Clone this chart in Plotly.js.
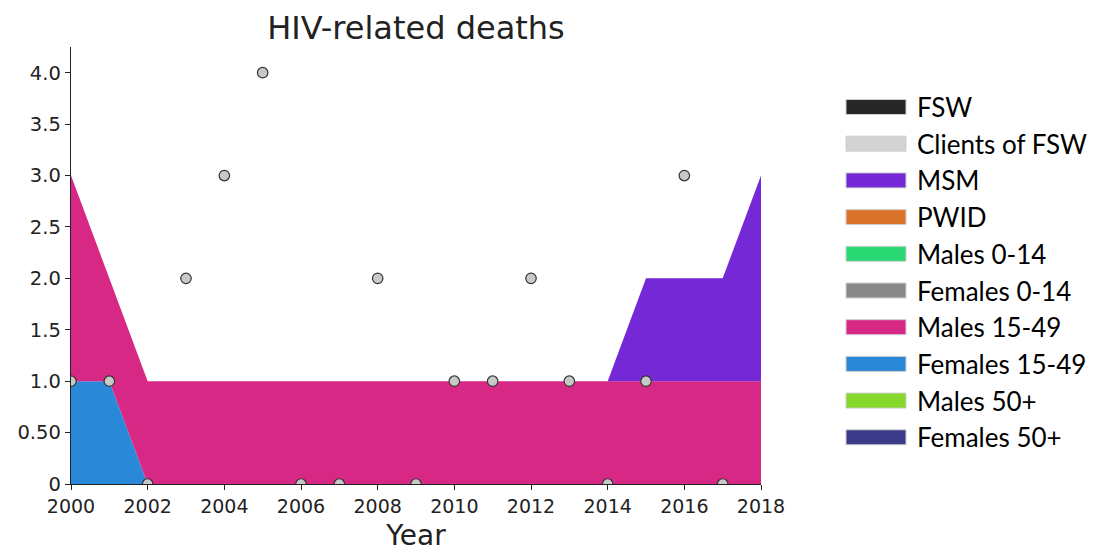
<!DOCTYPE html>
<html>
<head>
<meta charset="utf-8">
<script src="https://cdn.plot.ly/plotly-3.0.1.min.js"></script>
<style>html,body{margin:0;padding:0;background:#fff;}#chart{width:1099px;height:552px;}</style>
</head>
<body>
<div id="chart"></div>
<script>
const years = [2000,2001,2002,2003,2004,2005,2006,2007,2008,2009,2010,2011,2012,2013,2014,2015,2016,2017,2018];
// legend order (top to bottom)
const groupNames = ["FSW","Clients of FSW","MSM","PWID","Males 0-14","Females 0-14","Males 15-49","Females 15-49","Males 50+","Females 50+"];
const groupColors = ["#262626","#d3d3d3","#7529d6","#d9742a","#2ad874","#898989","#d82886","#2a88d8","#86d82a","#3b3b8a"];
const zeros = [0,0,0,0,0,0,0,0,0,0,0,0,0,0,0,0,0,0,0];
const fswVals = zeros, clientsVals = zeros, pwidVals = zeros, m014Vals = zeros, f014Vals = zeros, m50Vals = zeros, f50Vals = zeros;
const msmVals = [0,0,0,0,0,0,0,0,0,0,0,0,0,0,0,1,1,1,2];
const m1549Vals = [2,1,1,1,1,1,1,1,1,1,1,1,1,1,1,1,1,1,1];
const f1549Vals = [1,1,0,0,0,0,0,0,0,0,0,0,0,0,0,0,0,0,0];
const groupValues = [fswVals,clientsVals,msmVals,pwidVals,m014Vals,f014Vals,m1549Vals,f1549Vals,m50Vals,f50Vals];
const dataYears = [2000,2001,2002,2003,2004,2005,2006,2007,2008,2009,2010,2011,2012,2013,2014,2015,2016,2017];
const dataVals  = [1,1,0,2,3,4,0,0,2,0,1,1,2,1,0,1,3,0];
const yTickVals = [0,0.5,1,1.5,2,2.5,3,3.5,4];
const yTickText = ["0","0.50","1.0","1.5","2.0","2.5","3.0","3.5","4.0"];
const xTickVals = [2000,2002,2004,2006,2008,2010,2012,2014,2016,2018];

const traces = [];
for (let i = groupNames.length - 1; i >= 0; i--) {
  traces.push({
    x: years, y: groupValues[i], name: groupNames[i], type: 'scatter', mode: 'lines',
    stackgroup: 'one', line: {width: 0, color: groupColors[i]}, fillcolor: groupColors[i],
    showlegend: false, hoverinfo: 'skip'
  });
}
traces.push({
  x: dataYears, y: dataVals, type: 'scatter', mode: 'markers', name: 'Data',
  marker: {size: 10.5, color: '#c8c8c8', line: {color: '#333', width: 1.2}},
  showlegend: false
});

const shapes = [], annotations = [];
const legTop = 107, legStep = 36.7;
groupNames.forEach((n, i) => {
  const cy = legTop + i * legStep;
  shapes.push({type: 'rect', xref: 'paper', yref: 'paper',
    x0: (846 - 71) / 690, x1: (906 - 71) / 690,
    y0: (484 - (cy + 7.5)) / 437, y1: (484 - (cy - 7.5)) / 437,
    fillcolor: groupColors[i], line: {color: '#cfcfcf', width: 1}});
  annotations.push({xref: 'paper', yref: 'paper', x: (915 - 71) / 690, y: (484 - cy) / 437,
    xanchor: 'left', yanchor: 'middle', text: n, showarrow: false,
    font: {family: 'Lato, "Open Sans", sans-serif', size: 26, color: '#000'}});
});

const layout = {
  width: 1099, height: 552,
  margin: {l: 71, r: 338, t: 47, b: 68},
  paper_bgcolor: '#fff', plot_bgcolor: '#fff',
  title: {text: 'HIV-related deaths', x: 0.5, xref: 'paper', y: 0.95, yref: 'container', yanchor: 'middle',
    font: {family: '"DejaVu Sans", sans-serif', size: 32, color: '#222'}},
  xaxis: {range: [2000, 2018], tickvals: xTickVals, ticks: 'outside', ticklen: 5, tickcolor: '#222',
    showgrid: false, zeroline: false, showline: true, linecolor: '#222', linewidth: 1.3,
    tickfont: {family: '"DejaVu Sans", sans-serif', size: 19, color: '#222'},
    title: {text: 'Year', standoff: 9, font: {family: '"DejaVu Sans", sans-serif', size: 28, color: '#222'}}},
  yaxis: {range: [0, 4.25], tickvals: yTickVals, ticktext: yTickText, ticks: 'outside', ticklen: 5, tickcolor: '#222',
    showgrid: false, zeroline: false, showline: true, linecolor: '#222', linewidth: 1.3,
    tickfont: {family: '"DejaVu Sans", sans-serif', size: 19.5, color: '#222'}},
  shapes: shapes, annotations: annotations, showlegend: false
};
Plotly.newPlot('chart', traces, layout, {displayModeBar: false, staticPlot: true});
</script>
</body>
</html>
